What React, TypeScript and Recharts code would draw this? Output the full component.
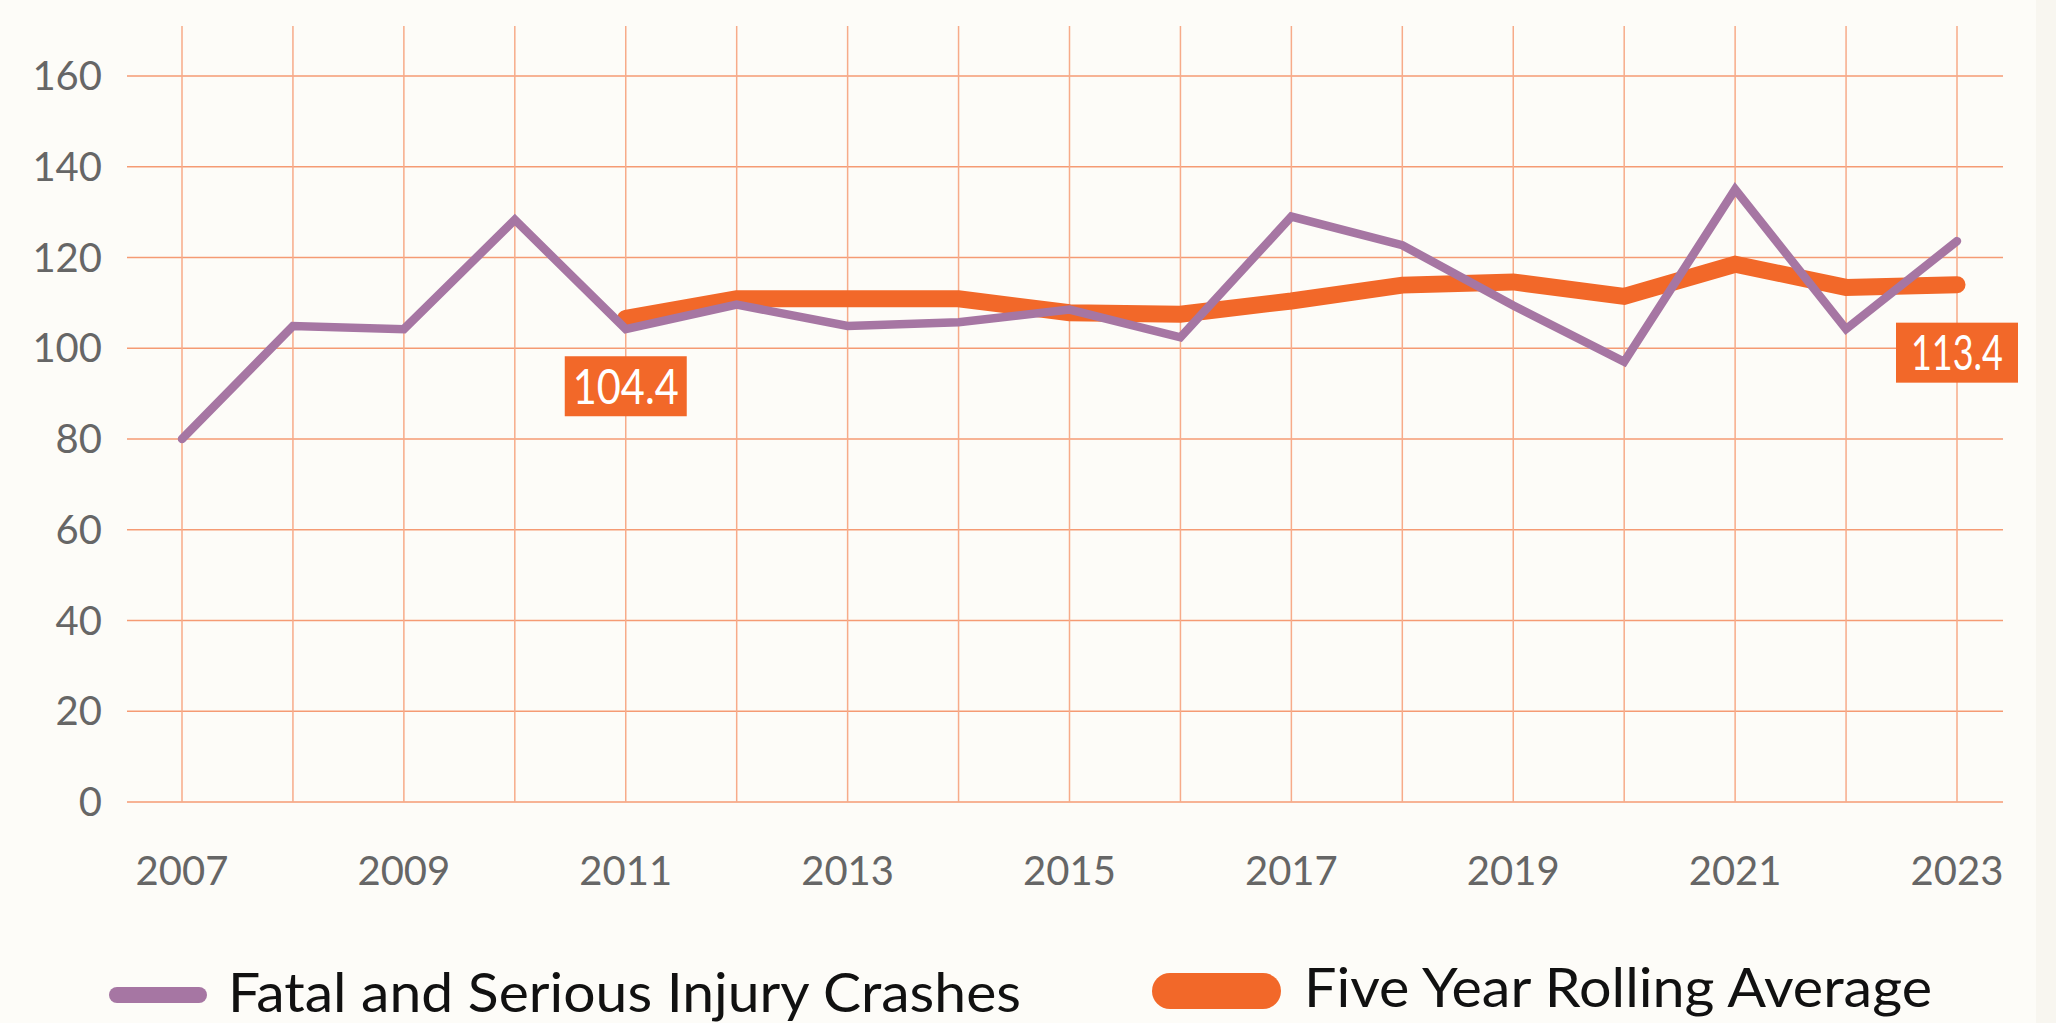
import React from 'react'
import { LineChart, Line, XAxis, YAxis, CartesianGrid, LabelList } from 'recharts'

const years = [
  '2007', '2008', '2009', '2010', '2011', '2012', '2013', '2014', '2015',
  '2016', '2017', '2018', '2019', '2020', '2021', '2022', '2023',
]
const crashes = [80, 104.9, 104.2, 128.3, 104.2, 109.6, 104.9, 105.7, 108.5, 102.4, 129, 122.7, 109.4, 97, 135, 104.2, 123.6]
const rollingAverage = [null, null, null, null, 106.6, 110.9, 110.9, 110.9, 107.8, 107.5, 110.4, 113.9, 114.6, 111.4, 118.5, 113.4, 114]
const yTicks = [0, 20, 40, 60, 80, 100, 120, 140, 160]
const calloutYears = ['2011', '2023']
const calloutTexts = ['104.4', '113.4']

const PURPLE = '#a676a3'
const ORANGE = '#f26829'
const FONT = 'Lato, "Open Sans", sans-serif'

const chartData = years.map((year, i) => ({
  year,
  crashes: crashes[i],
  rolling: rollingAverage[i],
}))

function YearTick(props: any) {
  const { x, y, payload, index } = props
  if (index % 2 !== 0) return <g />
  return (
    <text x={x} y={y} dy="0.71em" textAnchor="middle" fill="#666" fontSize={40} fontFamily={FONT}>
      {payload.value}
    </text>
  )
}

function Callout(props: any) {
  const { x, y, index } = props
  const k = calloutYears.indexOf(years[index])
  if (k < 0 || x == null || y == null) return null
  const w = 122
  const h = 60
  const cy = y + 68
  const label = calloutTexts[k]
  // the original uses a condensed face, so squeeze the text to its width
  const len = label.startsWith('11') ? 92 : 106
  return (
    <g>
      <rect x={x - w / 2} y={cy - h / 2} width={w} height={h} fill={ORANGE} />
      <text
        x={x}
        y={cy}
        dy="0.36em"
        textAnchor="middle"
        fill="#fff"
        fontSize={48}
        fontFamily={FONT}
        textLength={len}
        lengthAdjust="spacingAndGlyphs"
      >
        {label}
      </text>
    </g>
  )
}

export default function App() {
  return (
    <div
      style={{
        position: 'absolute',
        left: 0,
        top: 0,
        width: 2056,
        height: 1023,
        background: '#fdfcf8',
        overflow: 'hidden',
      }}
    >
      <div style={{ position: 'absolute', left: 2036, top: 0, width: 20, height: 1023, background: '#f8f6f0' }} />
      <LineChart
        width={2056}
        height={1023}
        data={chartData}
        margin={{ top: 26, right: 53, bottom: 121, left: 27 }}
      >
        <CartesianGrid vertical={false} syncWithTicks stroke="#f59b74" strokeWidth={1.5} />
        <CartesianGrid horizontal={false} syncWithTicks stroke="#f7ab89" strokeWidth={1.5} />
        <XAxis
          dataKey="year"
          interval={0}
          padding={{ left: 55, right: 46 }}
          axisLine={false}
          tickLine={false}
          tickSize={0}
          tickMargin={55}
          height={100}
          tick={<YearTick />}
        />
        <YAxis
          domain={[0, 171]}
          ticks={yTicks}
          width={100}
          axisLine={false}
          tickLine={false}
          tickSize={0}
          tickMargin={25}
          tick={{ fill: '#666', fontSize: 40, fontFamily: FONT }}
        />
        <Line
          dataKey="rolling"
          stroke={ORANGE}
          strokeWidth={17}
          strokeLinecap="round"
          dot={false}
          activeDot={false}
          isAnimationActive={false}
        >
          <LabelList dataKey="rolling" content={<Callout />} />
        </Line>
        <Line
          dataKey="crashes"
          stroke={PURPLE}
          strokeWidth={8.5}
          strokeLinecap="round"
          dot={false}
          activeDot={false}
          isAnimationActive={false}
        />
      </LineChart>
      <svg
        width={2056}
        height={93}
        style={{ position: 'absolute', left: 0, top: 930 }}
        fontFamily={FONT}
      >
        <rect x={109} y={57} width={98} height={16} rx={8} fill={PURPLE} />
        <text x={228} y={82} fontSize={55} fill="#111" textLength={793} lengthAdjust="spacingAndGlyphs">
          Fatal and Serious Injury Crashes
        </text>
        <rect x={1152} y={43} width={129} height={36} rx={18} fill={ORANGE} />
        <text x={1304} y={77} fontSize={54} fill="#111" textLength={628} lengthAdjust="spacingAndGlyphs">
          Five Year Rolling Average
        </text>
      </svg>
    </div>
  )
}
